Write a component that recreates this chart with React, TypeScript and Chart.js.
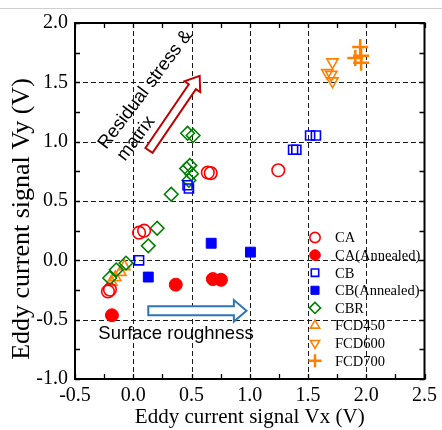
import React, { useEffect, useRef } from 'react';
import { Chart, registerables } from 'chart.js';
import { drawPoint } from 'chart.js/helpers';

Chart.register(...registerables);

// ---- data (V) ----
const seriesNames = ['CA', 'CA(Annealed)', 'CB', 'CB(Annealed)', 'CBR', 'FCD450', 'FCD600', 'FCD700'];

const CA = [
  [0.05, 0.233], [0.093, 0.25], [0.64, 0.74], [0.665, 0.735], [1.245, 0.759],
  [-0.2, -0.247], [-0.217, -0.262],
];
const CA_ANNEALED = [
  [-0.183, -0.463], [0.365, -0.205], [0.683, -0.158], [0.753, -0.164],
];
const CB = [
  [0.466, 0.633], [0.478, 0.605], [0.05, 0.0], [1.372, 0.932], [1.40, 0.932],
  [1.518, 1.052], [1.568, 1.052],
];
const CB_ANNEALED = [
  [0.129, -0.141], [0.669, 0.144], [1.006, 0.069],
];
const CBR = [
  [0.466, 1.071], [0.514, 1.052], [0.486, 0.80], [0.458, 0.773], [0.50, 0.73],
  [0.478, 0.675], [0.326, 0.557], [0.205, 0.27], [0.129, 0.122],
  [-0.062, -0.023], [-0.146, -0.08], [-0.202, -0.149],
];
const FCD450 = [
  [-0.076, -0.052], [-0.11, -0.099], [-0.154, -0.144], [-0.188, -0.183],
];
const FCD600 = [
  [1.71, 1.67], [1.665, 1.58], [1.70, 1.565], [1.71, 1.51],
];
const FCD700 = [
  [1.948, 1.798], [1.906, 1.706], [1.956, 1.723], [1.956, 1.664],
];

const xRange = [-0.5, 2.5];
const yRange = [-1.0, 2.0];
const majorStep = 0.5;
const minorStep = 0.25;

const xTitle = 'Eddy current signal Vx (V)';
const yTitle = 'Eddy current signal Vy (V)';
const residualLines = ['Residual stress &', 'matrix'];
const roughnessText = 'Surface roughness';

// annotation anchors in data units
const redArrow = { from: [0.135, 0.926], to: [0.57, 1.554] };
const blueArrow = { from: [0.129, -0.425], to: [0.972, -0.425] };
const residualAt = [0.105, 1.44];
const roughnessAt = [0.367, -0.616];

const RED = '#ff0000';
const BLUE = '#0000ff';
const GREEN = '#008000';
const ORANGE = '#ff8000';
const NONE = 'rgba(0,0,0,0)';
const SERIF = '"Liberation Serif", "Times New Roman", serif';
const SANS = '"Liberation Sans", Arial, sans-serif';

const styles = [
  { color: RED, fill: false, pointStyle: 'circle', rotation: 0, radius: 6.3, bw: 1.6 },
  { color: RED, fill: true, pointStyle: 'circle', rotation: 0, radius: 6.5, bw: 1 },
  { color: BLUE, fill: false, pointStyle: 'rect', rotation: 0, radius: 6.4, bw: 1.6 },
  { color: BLUE, fill: true, pointStyle: 'rect', rotation: 0, radius: 7, bw: 1 },
  { color: GREEN, fill: false, pointStyle: 'rectRot', rotation: 0, radius: 6.8, bw: 1.6 },
  { color: ORANGE, fill: false, pointStyle: 'triangle', rotation: 0, radius: 6.5, bw: 1.6 },
  { color: ORANGE, fill: false, pointStyle: 'triangle', rotation: 180, radius: 6.5, bw: 1.6 },
  { color: ORANGE, fill: false, pointStyle: 'cross', rotation: 0, radius: 8, bw: 2.5 },
];
const seriesData = [CA, CA_ANNEALED, CB, CB_ANNEALED, CBR, FCD450, FCD600, FCD700];

const isMajor = (v: number) => Math.abs(v / majorStep - Math.round(v / majorStep)) < 1e-6;

function drawArrow(ctx: CanvasRenderingContext2D, x0: number, y0: number, x1: number, y1: number,
  sw: number, hw: number, hl: number, color: string) {
  const L = Math.hypot(x1 - x0, y1 - y0);
  const ang = Math.atan2(y1 - y0, x1 - x0);
  ctx.save();
  ctx.translate(x0, y0);
  ctx.rotate(ang);
  ctx.beginPath();
  ctx.moveTo(0, -sw);
  ctx.lineTo(L - hl, -sw);
  ctx.lineTo(L - hl, -hw);
  ctx.lineTo(L, 0);
  ctx.lineTo(L - hl, hw);
  ctx.lineTo(L - hl, sw);
  ctx.lineTo(0, sw);
  ctx.closePath();
  ctx.fillStyle = '#ffffff';
  ctx.fill();
  ctx.lineWidth = 2;
  ctx.lineJoin = 'miter';
  ctx.strokeStyle = color;
  ctx.stroke();
  ctx.restore();
}

const framePlugin = {
  id: 'frame',
  beforeDatasetsDraw(chart: any) {
    const { ctx, chartArea: a, scales } = chart;
    const x = scales.x, y = scales.y;
    ctx.save();
    // dashed grid at major values (not on border)
    ctx.strokeStyle = '#1a1a1a';
    ctx.lineWidth = 1;
    ctx.setLineDash([5, 3]);
    for (const t of x.ticks) {
      const v = t.value;
      if (!isMajor(v) || v <= xRange[0] || v >= xRange[1]) continue;
      const px = Math.round(x.getPixelForValue(v)) + 0.5;
      ctx.beginPath(); ctx.moveTo(px, a.top); ctx.lineTo(px, a.bottom); ctx.stroke();
    }
    for (const t of y.ticks) {
      const v = t.value;
      if (!isMajor(v) || v <= yRange[0] || v >= yRange[1]) continue;
      const py = Math.round(y.getPixelForValue(v)) + 0.5;
      ctx.beginPath(); ctx.moveTo(a.left, py); ctx.lineTo(a.right, py); ctx.stroke();
    }
    ctx.setLineDash([]);
    // inward ticks on all sides
    ctx.strokeStyle = '#000';
    ctx.lineWidth = 1.3;
    const tl = 5;
    for (const t of x.ticks) {
      const px = Math.round(x.getPixelForValue(t.value)) + 0.5;
      ctx.beginPath();
      ctx.moveTo(px, a.bottom); ctx.lineTo(px, a.bottom - tl);
      ctx.moveTo(px, a.top); ctx.lineTo(px, a.top + tl);
      ctx.stroke();
    }
    for (const t of y.ticks) {
      const py = Math.round(y.getPixelForValue(t.value)) + 0.5;
      ctx.beginPath();
      ctx.moveTo(a.left, py); ctx.lineTo(a.left + tl, py);
      ctx.moveTo(a.right, py); ctx.lineTo(a.right - tl, py);
      ctx.stroke();
    }
    ctx.lineWidth = 2;
    ctx.strokeRect(a.left, a.top, a.right - a.left, a.bottom - a.top);
    ctx.restore();
  },
  afterDatasetsDraw(chart: any) {
    const { ctx, scales } = chart;
    const x = scales.x, y = scales.y;
    const P = (p: number[]) => [x.getPixelForValue(p[0]), y.getPixelForValue(p[1])];
    const r0 = P(redArrow.from), r1 = P(redArrow.to);
    drawArrow(ctx, r0[0], r0[1], r1[0], r1[1], 4.3, 9.5, 13, '#c00000');
    const b0 = P(blueArrow.from), b1 = P(blueArrow.to);
    drawArrow(ctx, b0[0], b0[1], b1[0], b1[1], 4.5, 10.7, 12.6, '#2e75b6');

    ctx.save();
    ctx.fillStyle = '#000';
    ctx.font = `18.5px ${SANS}`;
    ctx.textBaseline = 'middle';
    const ra = P(residualAt);
    ctx.translate(ra[0], ra[1]);
    ctx.rotate(-53 * Math.PI / 180);
    const w1 = ctx.measureText(residualLines[0]).width;
    ctx.textAlign = 'left';
    ctx.fillText(residualLines[0], -w1 / 2, 0);
    ctx.fillText(residualLines[1], -w1 / 2 + 2, 22);
    ctx.restore();

    ctx.save();
    ctx.fillStyle = '#000';
    ctx.font = `18.5px ${SANS}`;
    ctx.textBaseline = 'middle';
    ctx.textAlign = 'center';
    const rg = P(roughnessAt);
    ctx.fillText(roughnessText, rg[0], rg[1]);
    ctx.restore();
  },
  afterDraw(chart: any) {
    const { ctx, chartArea: a } = chart;
    // y axis title
    ctx.save();
    ctx.fillStyle = '#000';
    ctx.font = `26px ${SERIF}`;
    ctx.textAlign = 'center';
    ctx.textBaseline = 'middle';
    ctx.translate(22, 219);
    ctx.rotate(-Math.PI / 2);
    ctx.fillText(yTitle, 0, 0);
    ctx.restore();

    // legend
    const symX = a.left + 240;
    const textX = a.left + 260;
    const top = a.top + 214.5;
    const gap = 17.6;
    ctx.save();
    ctx.font = `14.5px ${SERIF}`;
    ctx.textBaseline = 'middle';
    ctx.textAlign = 'left';
    seriesNames.forEach((name, i) => {
      const s = styles[i];
      const yy = top + i * gap;
      ctx.fillStyle = s.fill ? s.color : NONE;
      ctx.strokeStyle = s.color;
      ctx.lineWidth = s.bw;
      drawPoint(ctx, { pointStyle: s.pointStyle, rotation: s.rotation, radius: s.radius * 0.82, borderWidth: s.bw }, symX, yy);
      ctx.fillStyle = '#000';
      ctx.fillText(name, textX, yy + 1);
    });
    ctx.restore();
  },
};

export default function App() {
  const ref = useRef<HTMLCanvasElement | null>(null);
  useEffect(() => {
    if (!ref.current) return;
    const datasets = seriesNames.map((name, i) => {
      const s = styles[i];
      return {
        label: name,
        data: seriesData[i].map(([px, py]) => ({ x: px, y: py })),
        pointStyle: s.pointStyle,
        rotation: s.rotation,
        pointRadius: s.radius,
        pointHoverRadius: s.radius,
        borderColor: s.color,
        backgroundColor: s.fill ? s.color : NONE,
        borderWidth: s.bw,
        showLine: false,
      };
    });
    const chart = new Chart(ref.current, {
      type: 'scatter',
      data: { datasets } as any,
      plugins: [framePlugin as any],
      options: {
        animation: false,
        responsive: false,
        devicePixelRatio: 1,
        layout: { padding: { top: 23, right: 11.5, left: 0, bottom: 0 } },
        plugins: { legend: { display: false }, tooltip: { enabled: false } },
        scales: {
          x: {
            type: 'linear',
            min: xRange[0],
            max: xRange[1],
            afterFit: (s: any) => { s.height = 51; },
            grid: { display: false, drawTicks: false },
            border: { display: false },
            ticks: {
              stepSize: minorStep,
              autoSkip: false,
              maxRotation: 0,
              padding: 5,
              color: '#000',
              font: { family: SERIF, size: 20 },
              callback: (v: any) => (isMajor(Number(v)) ? Number(v).toFixed(1) : ''),
            },
            title: {
              display: true,
              text: xTitle,
              color: '#000',
              font: { family: SERIF, size: 21 },
              padding: { top: 0, bottom: 0 },
            },
          },
          y: {
            type: 'linear',
            min: yRange[0],
            max: yRange[1],
            afterFit: (s: any) => { s.width = 75; },
            grid: { display: false, drawTicks: false },
            border: { display: false },
            ticks: {
              stepSize: minorStep,
              autoSkip: false,
              padding: 7,
              color: '#000',
              font: { family: SERIF, size: 20 },
              callback: (v: any) => (isMajor(Number(v)) ? Number(v).toFixed(1) : ''),
            },
            title: { display: false },
          },
        },
      } as any,
    });
    return () => chart.destroy();
  }, []);
  return (
    <div style={{ position: 'fixed', left: 0, top: 0, width: 442, height: 430, background: '#fff' }}>
      <div style={{ position: 'absolute', left: 0, top: 8, width: 442, height: 0, borderTop: '1px solid #cfcfcf' }} />
      <canvas ref={ref} width={442} height={430} style={{ position: 'absolute', left: 0, top: 0, width: 442, height: 430 }} />
    </div>
  );
}
